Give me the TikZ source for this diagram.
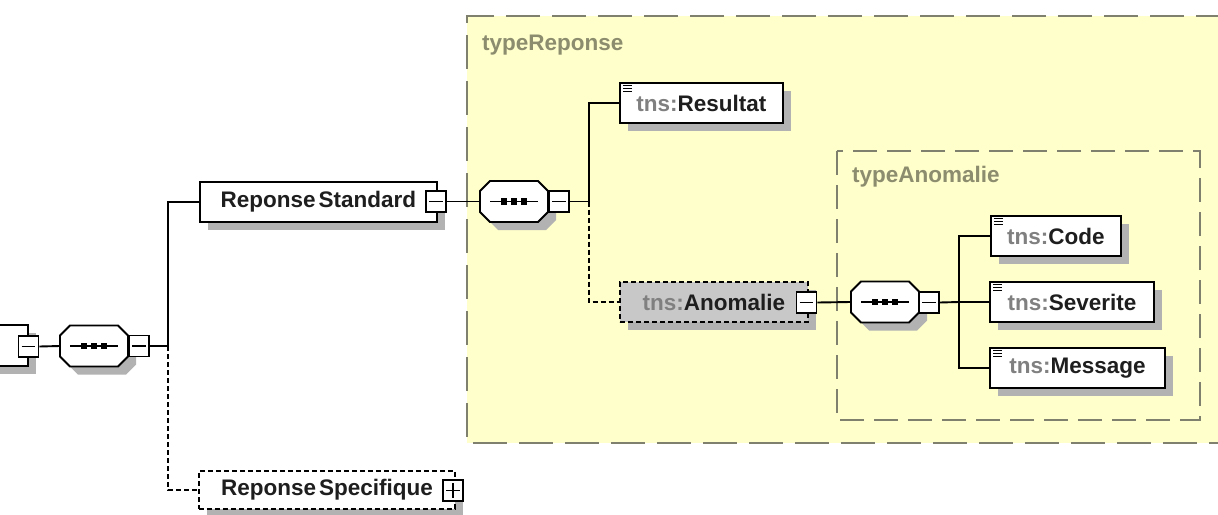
\documentclass[tikz,border=0pt]{standalone}
\usepackage{fontspec}
\setmainfont{Liberation Sans}
\usetikzlibrary{shadows,calc}
\definecolor{yel}{RGB}{255,255,204}
\definecolor{shadowc}{RGB}{178,178,178}
\definecolor{tnsgray}{RGB}{128,128,128}
\definecolor{frame}{RGB}{128,128,110}
\definecolor{lbl}{RGB}{140,140,110}
\definecolor{anofill}{RGB}{200,200,200}
\definecolor{txt}{RGB}{30,30,30}
\tikzset{
 conn/.style={line width=1.9pt, draw=black},
 elem/.style={draw, line width=1.9pt, fill=white, minimum height=40pt, inner sep=0pt,
   font=\fontsize{22.5}{26}\selectfont\bfseries, text=txt,
   drop shadow={shadow xshift=8pt, shadow yshift=-8pt, fill=shadowc, opacity=1}},
 optelem/.style={elem, dash pattern=on 5pt off 3pt},
 pmbox/.style={draw, line width=1.7pt, fill=white, minimum width=20pt, minimum height=21pt, inner sep=0pt},
 seqnode/.style={minimum width=68pt, minimum height=42pt, inner sep=0pt},
 grp/.style={draw=frame, line width=1.7pt},
 grplabel/.style={anchor=west, text=lbl, font=\fontsize{22.5}{26}\selectfont\bfseries, inner sep=0pt},
}
\newcommand\seqsym[1]{%
 \begin{scope}[shift={(#1.center)}]
  \fill[shadowc] (-16,-12.5) -- (32,-12.5) -- (42,-2.5) -- (42,18.5) -- (32,28.5) -- (-16,28.5) -- (-26,18.5) -- (-26,-2.5) -- cycle;
  \draw[line width=1.9pt, fill=white] (-24,-20.5) -- (24,-20.5) -- (34,-10.5) -- (34,10.5) -- (24,20.5) -- (-24,20.5) -- (-34,10.5) -- (-34,-10.5) -- cycle;
  \draw[line width=1.6pt] (-24,0) -- (24,0);
  \foreach \q in {-10,0,10} {\fill (\q-3.2,-3.2) rectangle (\q+3.2,3.2);}
 \end{scope}}
\newcommand\minusbox[2]{\node[pmbox] (#1) at #2 {};
 \draw[line width=1.5pt] ([xshift=4pt]#1.west) -- ([xshift=-4pt]#1.east);}
\newcommand\plusbox[2]{\node[pmbox] (#1) at #2 {};
 \draw[line width=1.5pt] ([xshift=4pt]#1.west) -- ([xshift=-4pt]#1.east);
 \draw[line width=1.5pt] ([yshift=-4pt]#1.north) -- ([yshift=4pt]#1.south);}
\newcommand\simpleicon[1]{%
 \foreach \d in {3.5,6.5,9.5} {\draw[line width=1.2pt] ([shift={(4,\d)}]#1.north west) -- ++(9,0);}}
\begin{document}
\begin{tikzpicture}[x=1pt,y=-1pt]
\useasboundingbox (0,0) rectangle (1218,514);
\clip (0,0) rectangle (1218,514);
\fill[white] (0,0) rectangle (1218,514);
% groups
\fill[yel] (467,16) rectangle (1230,443);
\draw[grp, dash pattern=on 34pt off 12pt] (1230,16) -- (467,16) -- (467,443) -- (1230,443);
\node[grplabel] (lblrep) at (482,45) {typeReponse};
\draw[grp, dash pattern=on 24pt off 10pt] (837,151) rectangle (1200,420);
\node[grplabel] (lblano) at (852,177) {typeAnomalie};
% left partial element
\node[elem, minimum width=48pt, minimum height=41pt] (p0) at (4,345.5) {};
\minusbox{m0}{(28.5,346.5)}
\node[seqnode] (s0) at (94,346) {};
\seqsym{s0}
\minusbox{m0b}{(139,346)}
\coordinate (j0) at (168,346);
% ReponseStandard
\node[elem, minimum width=237pt, anchor=west] (rs) at (199,202) {Reponse\hspace{3pt}Standard\hspace{8pt}};
\minusbox{mrs}{(436,201.5)}
\node[seqnode] (s1) at (514,201.5) {};
\seqsym{s1}
\minusbox{ms1}{(559,201.5)}
\coordinate (j1) at (589,201.5);
% ReponseSpecifique
\node[optelem, minimum width=256pt, minimum height=38pt, anchor=west] (rsp) at (198,490) {Reponse\hspace{3pt}Specifique\hspace{8pt}};
\plusbox{prsp}{(453,490.5)}
% Resultat
\node[elem, minimum width=163pt, anchor=west] (res) at (619,103) {\textcolor{tnsgray}{tns:}Resultat};
\simpleicon{res}
% Anomalie
\node[optelem, fill=anofill, minimum width=188pt, anchor=west] (ano) at (619,302) {\textcolor{tnsgray}{tns:}Anomalie\hspace{7pt}};
\minusbox{mano}{(806.5,302.5)}
\node[seqnode] (s2) at (885,302) {};
\seqsym{s2}
\minusbox{ms2}{(929,302.5)}
\coordinate (j2) at (959,302);
% leaves
\node[elem, minimum width=130pt, anchor=west] (code) at (990,236) {\textcolor{tnsgray}{tns:}Code};
\simpleicon{code}
\node[elem, minimum width=164pt, anchor=west] (sev) at (989,302) {\textcolor{tnsgray}{tns:}Severite};
\simpleicon{sev}
\node[elem, minimum width=175pt, anchor=west] (msg) at (989,368) {\textcolor{tnsgray}{tns:}Message};
\simpleicon{msg}
% connectors
\draw[conn] (m0.east) -- (s0.west);
\draw[conn] (m0b.east) -- (j0);
\draw[conn] (j0) |- (rs.west);
\draw[conn, dash pattern=on 5pt off 3pt] (j0) |- (rsp.west);
\draw[conn] (mrs.east) -- (s1.west);
\draw[conn] (ms1.east) -- (j1);
\draw[conn] (j1) |- (res.west);
\draw[conn, dash pattern=on 5pt off 3pt] (j1) |- (ano.west);
\draw[conn] (mano.east) -- (s2.west);
\draw[conn] (ms2.east) -- (j2);
\draw[conn] (j2) |- (code.west);
\draw[conn] (j2) -- (sev.west);
\draw[conn] (j2) |- (msg.west);
\end{tikzpicture}
\end{document}
